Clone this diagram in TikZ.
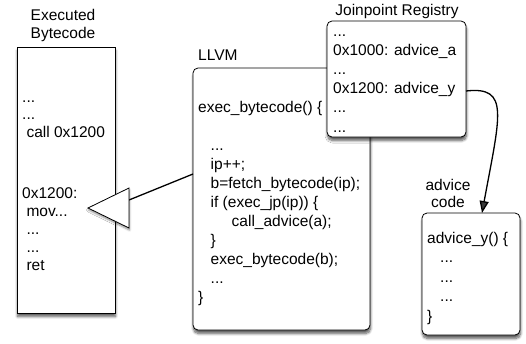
\documentclass[tikz,border=0pt]{standalone}
\usepackage{fontspec}
\setmainfont{Liberation Sans}
\usetikzlibrary{arrows.meta,shadows.blur}
\begin{document}
\begin{tikzpicture}[x=1pt,y=-1pt,
  box/.style={draw=black, line width=0.8pt, fill=white, inner sep=0pt, outer sep=0pt, anchor=north west,
    blur shadow={shadow xshift=0.5pt, shadow yshift=-3.5pt, shadow blur radius=2.5pt, shadow blur steps=8, shadow opacity=65}},
  rbox/.style={box, rounded corners=5pt},
  txt/.style={font=\fontsize{15.5}{19}\selectfont, inner sep=0pt, align=left, anchor=base west},
  lbl/.style={font=\fontsize{15.5}{18}\selectfont, inner sep=0pt, align=center, anchor=base},
  conn/.style={line width=1.3pt}]
\useasboundingbox (0,0) rectangle (526,343);

% boxes
\node[box, minimum width=98pt, minimum height=266pt] (exe) at (17,47) {};
\node[rbox, minimum width=177pt, minimum height=262pt] (llvm) at (193,68) {};
\node[rbox, minimum width=139pt, minimum height=116pt] (reg) at (327,21) {};
\node[rbox, minimum width=98pt, minimum height=122pt] (adv) at (422,213) {};

% labels (base anchor = baseline of last line)
\node[lbl] (exel) at (63,38.5) {Executed\\Bytecode};
\node[lbl, anchor=base west] (llvml) at (198,60.5) {LLVM};
\node[lbl] (regl) at (397,15.5) {Joinpoint Registry};
\node[lbl, font=\fontsize{15.5}{17}\selectfont] (advl) at (448,207) {advice\\code};

% box contents (positioned by the baseline of the last line)
\node[txt, font=\fontsize{15.5}{17.9}\selectfont] (exet) at (22,270.4)
  {...\\...\\\hspace{4.3pt}call 0x1200\\[43.1pt]0x1200:\\\hspace{4.3pt}mov...\\\hspace{4.3pt}...\\\hspace{4.3pt}...\\\hspace{4.3pt}ret};
\node[txt] (llvmt) at (198,302)
  {exec\_bytecode() \{\\[19pt]%
   \hspace{12.5pt}...\\
   \hspace{12.5pt}ip++;\\
   \hspace{12.5pt}b=fetch\_bytecode(ip);\\
   \hspace{12.5pt}if (exec\_jp(ip)) \{\\
   \hspace{33.5pt}call\_advice(a);\\
   \hspace{12.5pt}\}\\
   \hspace{12.5pt}exec\_bytecode(b);\\
   \hspace{12.5pt}...\\
   \}};
\node[txt, font=\fontsize{15.5}{19.2}\selectfont] (regt) at (333,132)
  {...\\0x1000: advice\_a\\...\\0x1200: advice\_y\\...\\...};
\node[txt, font=\fontsize{15.5}{19.5}\selectfont] (advt) at (427,321)
  {advice\_y() \{\\\hspace{13pt}...\\\hspace{13pt}...\\\hspace{13pt}...\\\}};

% connector LLVM -> executed bytecode (big open triangle head)
\coordinate (tb) at (129,200);
\coordinate (tt) at (88,208);
\draw[conn] ([yshift=25pt]llvm.west) -- (tb);
\draw[line width=0.8pt, fill=white, blur shadow={shadow xshift=0.5pt, shadow yshift=-2pt, shadow blur radius=2pt, shadow blur steps=5, shadow opacity=45}]
  (tt) -- (129,188) -- (129,228) -- cycle;

% connector registry -> advice code
\draw[conn, -{Triangle[length=12pt,width=9pt]}]
  ([yshift=-12pt]reg.east) .. controls (510,86) and (500,115) .. ([xshift=11pt]adv.north);
\end{tikzpicture}
\end{document}
